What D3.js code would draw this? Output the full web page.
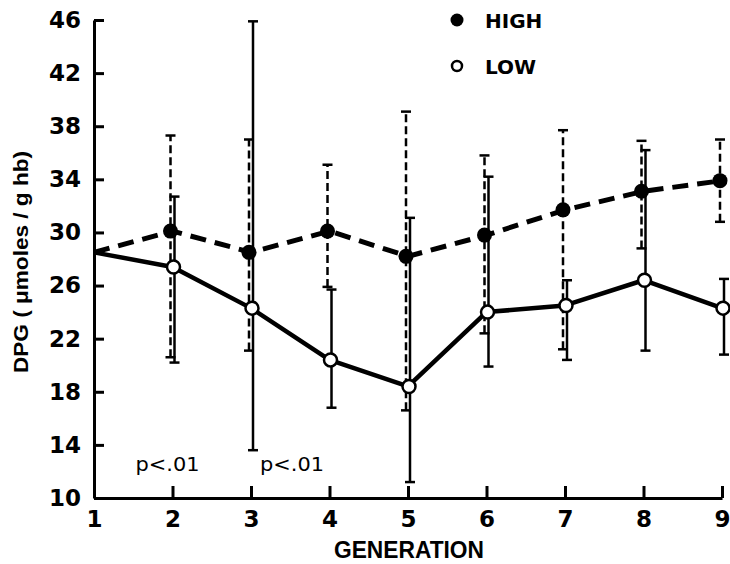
<!DOCTYPE html>
<html>
<head>
<meta charset="utf-8">
<script src="https://cdn.jsdelivr.net/npm/d3@7"></script>
<style>
  body { margin: 0; background: #fff; }
  svg { display: block; }
  .tick text { font-family: "DejaVu Sans", sans-serif; font-weight: bold; font-size: 23px; fill: #000; }
</style>
</head>
<body>
<div id="chart"></div>
<script>
// values (generation 1 is the shared starting point)
let generations = [1, 2, 3, 4, 5, 6, 7, 8, 9]
let highMean = [28.5, 30.1, 28.5, 30.1, 28.2, 29.8, 31.7, 33.1, 33.9]
let highUpper = [null, 37.3, 37.0, 35.1, 39.1, 35.8, 37.7, 36.9, 37.0]
let highLower = [null, 20.6, 21.1, 25.9, 16.6, 22.4, 21.2, 28.8, 30.8]
let lowMean = [28.5, 27.4, 24.3, 20.4, 18.4, 24.0, 24.5, 26.4, 24.3]
let lowUpper = [null, 32.7, 45.9, 25.7, 31.1, 34.2, 26.4, 36.2, 26.5]
let lowLower = [null, 20.2, 13.6, 16.8, 11.2, 19.9, 20.4, 21.1, 20.8]
let yTicks = [10, 14, 18, 22, 26, 30, 34, 38, 42, 46]
let pLabels = [{ gen: 2, text: 'p<.01' }, { gen: 3, text: 'p<.01' }]

function main () {
  let svg = d3.select('#chart').append('svg').attr('width', 730).attr('height', 564)

  let x = d3.scaleLinear().domain([1, 9]).range([94, 722])
  let y = d3.scaleLinear().domain([10, 46]).range([498, 20])

  let yAxis = d3.axisLeft(y).tickValues(yTicks).tickSizeInner(-10).tickSizeOuter(0).tickPadding(13)
  let gy = svg.append('g').attr('transform', 'translate(94,0)').call(yAxis)
  gy.select('.domain').attr('stroke', '#000').attr('stroke-width', 3)
  gy.selectAll('.tick line').attr('stroke-width', 3)

  let xAxis = d3.axisBottom(x).tickValues(generations).tickSizeInner(-12).tickSizeOuter(0).tickPadding(13)
  let gx = svg.append('g').attr('transform', 'translate(0,498)').call(xAxis)
  gx.select('.domain').attr('stroke', '#000').attr('stroke-width', 3)
  gx.selectAll('.tick line').attr('stroke-width', 3)

  // error bars
  let rows = generations.map((g, i) => ({
    g: g, hm: highMean[i], hu: highUpper[i], hl: highLower[i],
    lm: lowMean[i], lu: lowUpper[i], ll: lowLower[i]
  }))
  let withBars = rows.filter((d) => d.hu !== null)

  drawBars(svg, withBars, x, y, 'hl', 'hu', -2, '8,4')
  drawBars(svg, withBars, x, y, 'll', 'lu', 2, null)

  // mean lines
  let lowLine = d3.line().x((d) => x(d.g)).y((d) => y(d.lm))
  svg.append('path').datum(rows).attr('d', lowLine)
    .attr('fill', 'none').attr('stroke', '#000').attr('stroke-width', 4.5).attr('stroke-linejoin', 'round')

  let highLine = d3.line().x((d) => x(d.g)).y((d) => y(d.hm))
  svg.append('path').datum(rows).attr('d', highLine)
    .attr('fill', 'none').attr('stroke', '#000').attr('stroke-width', 5)
    .attr('stroke-dasharray', '16,9')

  // markers
  let pts = rows.filter((d) => d.g > 1)
  svg.selectAll('.hi').data(pts).enter().append('circle')
    .attr('cx', (d) => x(d.g) - 2).attr('cy', (d) => y(d.hm)).attr('r', 7.5).attr('fill', '#000')
  svg.selectAll('.lo').data(pts).enter().append('circle')
    .attr('cx', (d) => x(d.g) + 1).attr('cy', (d) => y(d.lm)).attr('r', 6.5)
    .attr('fill', '#fff').attr('stroke', '#000').attr('stroke-width', 2.5)

  // p labels
  svg.selectAll('.p').data(pLabels).enter().append('text')
    .attr('x', (d) => x(d.gen) - 37 + (d.gen === 3 ? 46 : 0)).attr('y', 471)
    .attr('font-family', 'DejaVu Sans, sans-serif').attr('font-size', 20)
    .attr('textLength', 64).attr('lengthAdjust', 'spacingAndGlyphs')
    .text((d) => d.text)

  // legend
  svg.append('circle').attr('cx', 457).attr('cy', 20).attr('r', 6.5).attr('fill', '#000')
  svg.append('circle').attr('cx', 457).attr('cy', 66).attr('r', 5).attr('fill', '#fff')
    .attr('stroke', '#000').attr('stroke-width', 2.5)
  svg.append('text').attr('x', 485).attr('y', 28).attr('font-family', 'DejaVu Sans, sans-serif')
    .attr('font-weight', 'bold').attr('font-size', 20).text('HIGH')
  svg.append('text').attr('x', 485).attr('y', 74).attr('font-family', 'DejaVu Sans, sans-serif')
    .attr('font-weight', 'bold').attr('font-size', 20).text('LOW')

  // axis titles
  svg.append('text').attr('x', 409).attr('y', 558).attr('text-anchor', 'middle')
    .attr('font-family', 'Liberation Sans, sans-serif').attr('font-weight', 'bold').attr('font-size', 23)
    .attr('textLength', 150).attr('lengthAdjust', 'spacingAndGlyphs').text('GENERATION')
  svg.append('text').attr('transform', 'translate(28,262) rotate(-90)').attr('text-anchor', 'middle')
    .attr('font-family', 'Liberation Sans, sans-serif').attr('font-weight', 'bold').attr('font-size', 21)
    .attr('textLength', 222).attr('lengthAdjust', 'spacingAndGlyphs').text('DPG ( \u03bcmoles / g hb)')
}

function drawBars (svg, data, x, y, lo, hi, dx, dash) {
  let g = svg.append('g').attr('stroke', '#000').attr('stroke-width', 2.5)
  g.selectAll('line.v').data(data).enter().append('line')
    .attr('x1', (d) => x(d.g) + dx).attr('x2', (d) => x(d.g) + dx)
    .attr('y1', (d) => y(d[lo])).attr('y2', (d) => y(d[hi]))
    .attr('stroke-dasharray', dash)
  g.selectAll('line.top').data(data).enter().append('line')
    .attr('x1', (d) => x(d.g) + dx - 5).attr('x2', (d) => x(d.g) + dx + 5)
    .attr('y1', (d) => y(d[hi])).attr('y2', (d) => y(d[hi]))
  g.selectAll('line.bot').data(data).enter().append('line')
    .attr('x1', (d) => x(d.g) + dx - 5).attr('x2', (d) => x(d.g) + dx + 5)
    .attr('y1', (d) => y(d[lo])).attr('y2', (d) => y(d[lo]))
}

main()
</script>
</body>
</html>
